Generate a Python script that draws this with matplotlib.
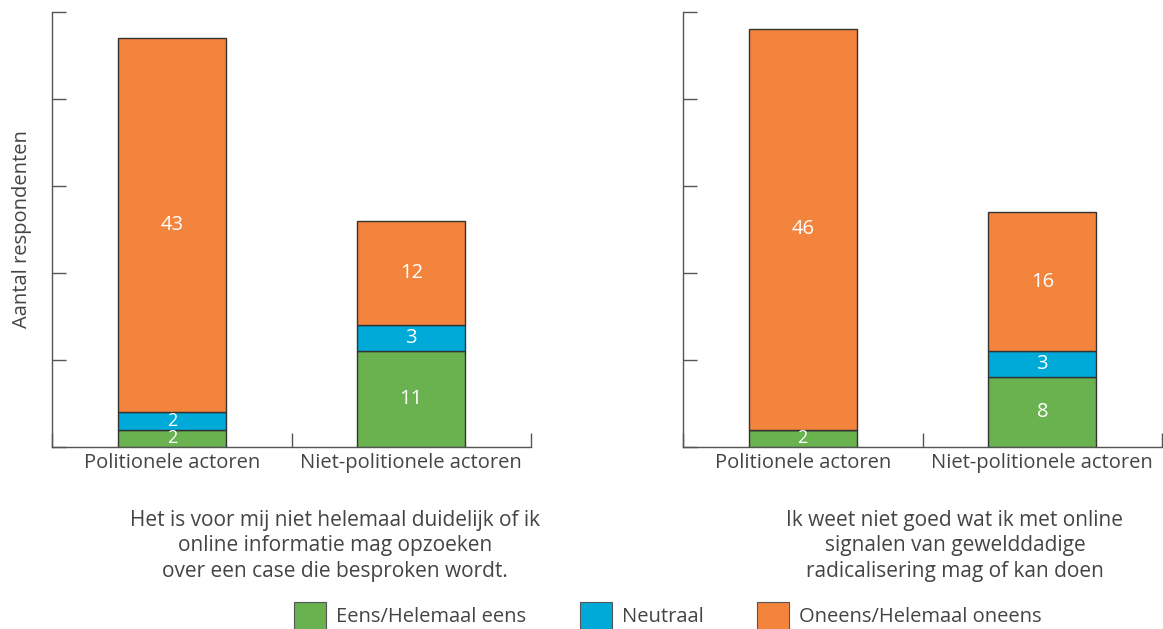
import matplotlib
matplotlib.use("Agg")
import matplotlib.pyplot as plt
from matplotlib.patches import Patch

categories = ["Politionele actoren", "Niet-politionele actoren"]
series_names = ["Eens/Helemaal eens", "Neutraal", "Oneens/Helemaal oneens"]
left_eens = [2, 11]
left_neutraal = [2, 3]
left_oneens = [43, 12]
right_eens = [2, 8]
right_neutraal = [0, 3]
right_oneens = [46, 16]
captions = [
    "Het is voor mij niet helemaal duidelijk of ik\nonline informatie mag opzoeken\nover een case die besproken wordt.",
    "Ik weet niet goed wat ik met online\nsignalen van gewelddadige\nradicalisering mag of kan doen",
]
ylabel = "Aantal respondenten"
yticks = [0, 10, 20, 30, 40, 50]

colors = ["#6ab150", "#00aad8", "#f3843e"]
edge = "#333333"
spine_c = "#555555"
text_c = "#444444"

FONT = ["Open Sans", "DejaVu Sans"]
plt.rcParams["font.family"] = FONT
plt.rcParams["font.weight"] = "normal"
FS = 14.5

W, H = 1163, 629
fig = plt.figure(figsize=(W / 100, H / 100), dpi=100)

def px_axes(x0, x1, ytop, ybot):
    return fig.add_axes([x0 / W, 1 - ybot / H, (x1 - x0) / W, (ybot - ytop) / H])

ax1 = px_axes(52, 531, 12, 447)
ax2 = px_axes(683, 1162, 12, 447)

data = [
    (left_eens, left_neutraal, left_oneens),
    (right_eens, right_neutraal, right_oneens),
]

for ax, series in zip([ax1, ax2], data):
    x = list(range(len(categories)))
    bottom = [0] * len(categories)
    for vals, col in zip(series, colors):
        ax.bar(x, vals, width=0.45, bottom=bottom, color=col,
               edgecolor=edge, linewidth=1.0, zorder=3)
        for xi, v, b in zip(x, vals, bottom):
            if v > 0:
                ax.text(xi, b + v / 2, str(v), ha="center", va="center",
                        color="white", fontsize=FS if v > 2 else 13, zorder=4)
        bottom = [b + v for b, v in zip(bottom, vals)]
    ax.set_xlim(-0.5, 1.5)
    ax.set_ylim(0, 50)
    ax.set_yticks(yticks)
    ax.set_yticklabels([])
    ax.set_xticks([-0.5, 0.5, 1.5])
    ax.set_xticklabels([])
    ax.set_xticks(x, minor=True)
    ax.set_xticklabels(categories, minor=True, fontsize=FS, color=text_c)
    ax.tick_params(axis="x", which="minor", length=0, pad=4)
    ax.tick_params(axis="x", which="major", direction="in", length=10, color=spine_c, width=1)
    ax.tick_params(axis="y", direction="in", length=10, color=spine_c, width=1)
    for s in ["top", "right"]:
        ax.spines[s].set_visible(False)
    for s in ["left", "bottom"]:
        ax.spines[s].set_color(spine_c)
        ax.spines[s].set_linewidth(1)

ax1.set_ylabel(ylabel, fontsize=FS, color=text_c, labelpad=11)

fig.text(335 / W, 1 - 546 / H, captions[0], ha="center", va="center",
         fontsize=15, color=text_c, linespacing=1.3)
fig.text(955 / W, 1 - 546 / H, captions[1], ha="center", va="center",
         fontsize=15, color=text_c, linespacing=1.3)

handles = [Patch(facecolor=c, edgecolor="#555555", linewidth=0.8) for c in colors]
leg = fig.legend(handles, series_names, loc="center", ncol=3,
                 bbox_to_anchor=(668 / W, 1 - 616 / H), frameon=False,
                 fontsize=FS, handlelength=1.6, handleheight=1.8,
                 columnspacing=2.65, handletextpad=0.5, labelcolor=text_c)

fig.savefig("out.png", dpi=100)
